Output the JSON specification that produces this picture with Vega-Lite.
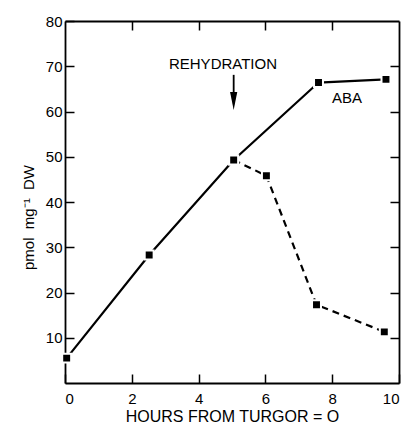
{
  "$schema": "https://vega.github.io/schema/vega-lite/v6.json",
  "width": 334,
  "height": 362,
  "autosize": "none",
  "padding": {"left": 65, "top": 21, "right": 8, "bottom": 43},
  "background": "white",
  "config": {
    "view": {"stroke": null},
    "font": "Liberation Sans",
    "axis": {"domainColor": "black", "domainWidth": 1.8, "tickColor": "black", "tickWidth": 1.5, "labelColor": "black", "titleColor": "black", "grid": false, "labelFont": "Liberation Sans", "titleFont": "Liberation Sans", "titleFontWeight": "normal"}
  },
  "datasets": {
    "solid": [
      {"hours": 0.05, "aba": 5.5},
      {"hours": 2.52, "aba": 28.3},
      {"hours": 5.05, "aba": 49.3},
      {"hours": 7.59, "aba": 66.4},
      {"hours": 9.61, "aba": 67.1}
    ],
    "dashed": [
      {"hours": 5.05, "aba": 49.3},
      {"hours": 6.03, "aba": 45.8},
      {"hours": 7.53, "aba": 17.3},
      {"hours": 9.56, "aba": 11.3}
    ],
    "labels": [
      {"hours": 4.73, "aba": 70.6, "text": "REHYDRATION"},
      {"hours": 8.44, "aba": 62.9, "text": "ABA"}
    ],
    "arrow": [
      {"hours": 5.05, "y1": 68.1, "y2": 63.0}
    ],
    "arrowhead": [
      {"hours": 5.05, "aba": 62.3}
    ]
  },
  "layer": [
    {
      "data": {"name": "solid"},
      "mark": {"type": "line", "color": "black", "strokeWidth": 2.2},
      "encoding": {
        "x": {"field": "hours", "type": "quantitative", "scale": {"domain": [0, 10], "nice": false},
          "axis": {"orient": "bottom", "values": [0, 2, 4, 6, 8, 10], "tickSize": -9, "labelPadding": 17, "labelFontSize": 15, "title": "HOURS FROM TURGOR = O", "titleFontSize": 16, "titlePadding": 2}},
        "y": {"field": "aba", "type": "quantitative", "scale": {"domain": [0, 80], "nice": false},
          "axis": {"orient": "left", "values": [10, 20, 30, 40, 50, 60, 70, 80], "tickSize": -9, "labelPadding": 12, "labelFontSize": 15, "title": "pmol\u00a0\u00a0mg\u207b\u00b9\u00a0\u00a0DW", "titleFontSize": 15, "titlePadding": 9, "titleY": 196}}
      }
    },
    {
      "data": {"name": "dashed"},
      "mark": {"type": "line", "color": "black", "strokeWidth": 2.2, "strokeDash": [7, 5]},
      "encoding": {
        "x": {"field": "hours", "type": "quantitative",
          "axis": {"orient": "top", "values": [2, 4, 6, 8], "tickSize": -9, "labels": false, "title": null}},
        "y": {"field": "aba", "type": "quantitative",
          "axis": {"orient": "right", "values": [10, 20, 30, 40, 50, 60, 70], "tickSize": -9, "labels": false, "title": null}}
      }
    },
    {
      "data": {"name": "solid"},
      "mark": {"type": "point", "shape": "square", "filled": true, "color": "black", "size": 80, "stroke": "white", "strokeWidth": 2, "opacity": 1},
      "encoding": {
        "x": {"field": "hours", "type": "quantitative", "axis": null},
        "y": {"field": "aba", "type": "quantitative", "axis": null}
      }
    },
    {
      "data": {"name": "dashed"},
      "mark": {"type": "point", "shape": "square", "filled": true, "color": "black", "size": 80, "stroke": "white", "strokeWidth": 2, "opacity": 1},
      "encoding": {
        "x": {"field": "hours", "type": "quantitative", "axis": null},
        "y": {"field": "aba", "type": "quantitative", "axis": null}
      }
    },
    {
      "data": {"name": "arrow"},
      "mark": {"type": "rule", "color": "black", "strokeWidth": 1.8},
      "encoding": {
        "x": {"field": "hours", "type": "quantitative", "axis": null},
        "y": {"field": "y1", "type": "quantitative", "axis": null},
        "y2": {"field": "y2"}
      }
    },
    {
      "data": {"name": "arrowhead"},
      "mark": {"type": "point", "shape": "M-0.4,-1L0,1L0.4,-1Z", "filled": true, "color": "black", "size": 324, "opacity": 1},
      "encoding": {
        "x": {"field": "hours", "type": "quantitative", "axis": null},
        "y": {"field": "aba", "type": "quantitative", "axis": null}
      }
    },
    {
      "data": {"name": "labels"},
      "mark": {"type": "text", "color": "black", "fontSize": 15, "font": "Liberation Sans", "align": "center", "baseline": "middle"},
      "encoding": {
        "x": {"field": "hours", "type": "quantitative", "axis": null},
        "y": {"field": "aba", "type": "quantitative", "axis": null},
        "text": {"field": "text"}
      }
    }
  ],
  "resolve": {"axis": {"x": "independent", "y": "independent"}}
}
